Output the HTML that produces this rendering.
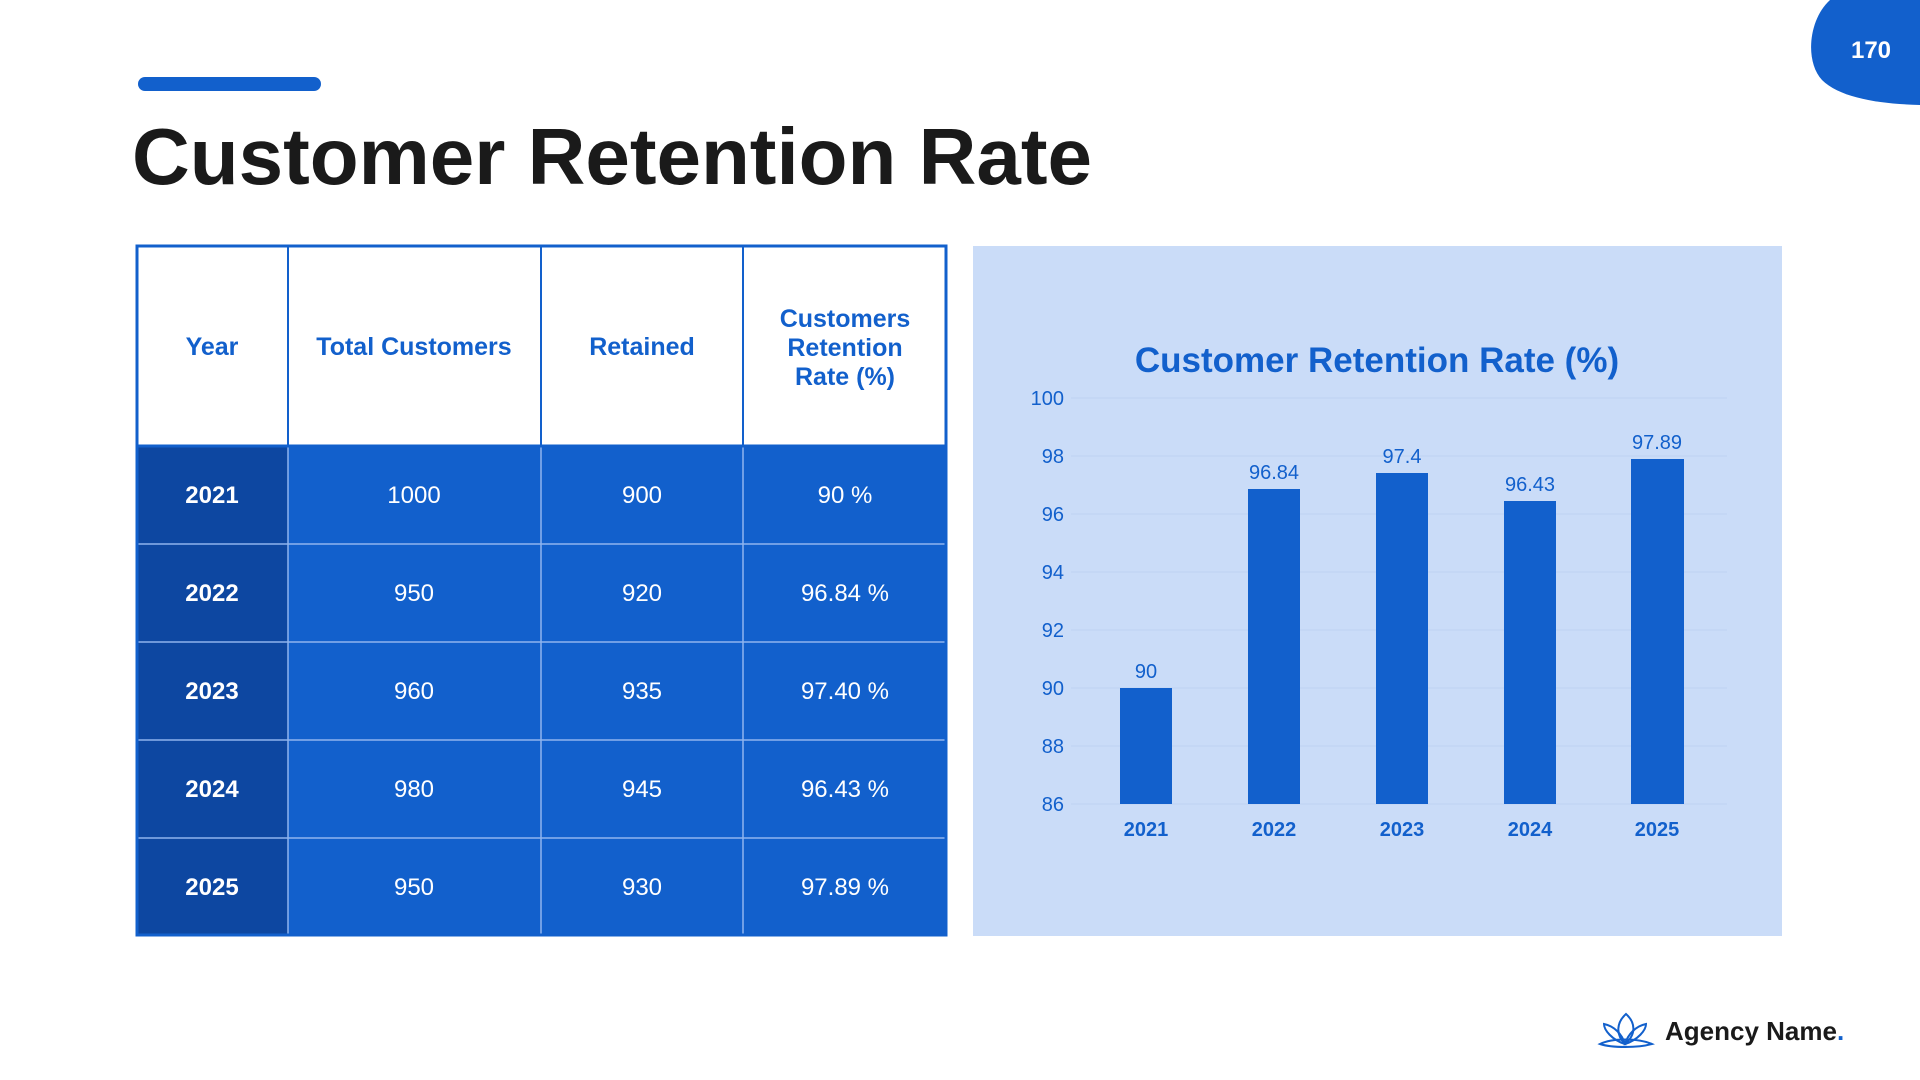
<!DOCTYPE html>
<html><head><meta charset="utf-8"><style>
html,body{margin:0;padding:0;background:#fff;}
svg{display:block;font-family:"Liberation Sans",sans-serif;}
</style></head><body>
<svg width="1920" height="1080" viewBox="0 0 1920 1080" xmlns="http://www.w3.org/2000/svg">
<rect width="1920" height="1080" fill="#fff"/>
<path d="M1830 0 H1920 V105 C1880 104 1840 98 1822 80 C1805 62 1808 20 1830 0 Z" fill="#1260cc"/>
<text x="1871" y="58" font-size="24" font-weight="bold" fill="#fff" text-anchor="middle">170</text>
<rect x="138" y="77" width="183" height="14" rx="7" fill="#1260cc"/>
<text x="132" y="184" font-size="80" font-weight="bold" fill="#1a1a1a" textLength="960" lengthAdjust="spacingAndGlyphs">Customer Retention Rate</text>
<rect x="137" y="246" width="809" height="200" fill="#fff" stroke="#1260cc" stroke-width="3"/>
<rect x="136" y="446" width="811" height="490" fill="#1260cc"/>
<rect x="136" y="446" width="152" height="490" fill="#0d47a1"/>
<g stroke="#1260cc" stroke-width="2"><line x1="288" y1="246" x2="288" y2="446"/><line x1="541" y1="246" x2="541" y2="446"/><line x1="743" y1="246" x2="743" y2="446"/></g>
<g stroke="#8fb4ee" stroke-width="1.5"><line x1="288" y1="446" x2="288" y2="936"/><line x1="541" y1="446" x2="541" y2="936"/><line x1="743" y1="446" x2="743" y2="936"/>
<line x1="136" y1="544" x2="947" y2="544"/><line x1="136" y1="642" x2="947" y2="642"/><line x1="136" y1="740" x2="947" y2="740"/><line x1="136" y1="838" x2="947" y2="838"/></g>
<rect x="137" y="446" width="809" height="489" fill="none" stroke="#1260cc" stroke-width="3"/>
<g font-size="25" font-weight="bold" fill="#1260cc" text-anchor="middle">
<text x="212" y="355">Year</text><text x="414" y="355">Total Customers</text><text x="642" y="355">Retained</text>
<text x="845" y="327">Customers</text><text x="845" y="356">Retention</text><text x="845" y="385">Rate (%)</text></g>
<g font-size="24" fill="#fff" text-anchor="middle">
<g font-weight="bold"><text x="212" y="503">2021</text><text x="212" y="601">2022</text><text x="212" y="699">2023</text><text x="212" y="797">2024</text><text x="212" y="895">2025</text></g>
<text x="414" y="503">1000</text><text x="642" y="503">900</text><text x="845" y="503">90 %</text>
<text x="414" y="601">950</text><text x="642" y="601">920</text><text x="845" y="601">96.84 %</text>
<text x="414" y="699">960</text><text x="642" y="699">935</text><text x="845" y="699">97.40 %</text>
<text x="414" y="797">980</text><text x="642" y="797">945</text><text x="845" y="797">96.43 %</text>
<text x="414" y="895">950</text><text x="642" y="895">930</text><text x="845" y="895">97.89 %</text>
</g>
<rect x="973" y="246" width="809" height="690" fill="#cadcf8"/>
<text x="1377" y="372" font-size="35" font-weight="bold" fill="#1260cc" text-anchor="middle">Customer Retention Rate (%)</text>
<g stroke="#bed2f2" stroke-width="1">
<line x1="1071" y1="398" x2="1727" y2="398"/><line x1="1071" y1="456" x2="1727" y2="456"/><line x1="1071" y1="514" x2="1727" y2="514"/><line x1="1071" y1="572" x2="1727" y2="572"/><line x1="1071" y1="630" x2="1727" y2="630"/><line x1="1071" y1="688" x2="1727" y2="688"/><line x1="1071" y1="746" x2="1727" y2="746"/><line x1="1071" y1="804" x2="1727" y2="804"/></g>
<g font-size="20" fill="#1260cc" text-anchor="end">
<text x="1064" y="405">100</text><text x="1064" y="463">98</text><text x="1064" y="521">96</text><text x="1064" y="579">94</text><text x="1064" y="637">92</text><text x="1064" y="695">90</text><text x="1064" y="753">88</text><text x="1064" y="811">86</text></g>
<g fill="#1260cc">
<rect x="1120" y="688" width="52" height="116"/>
<rect x="1248" y="489" width="52" height="315"/>
<rect x="1376" y="473" width="52" height="331"/>
<rect x="1504" y="501" width="52" height="303"/>
<rect x="1631" y="459" width="53" height="345"/>
</g>
<g font-size="20" fill="#1260cc" text-anchor="middle">
<text x="1146" y="678">90</text><text x="1274" y="479">96.84</text><text x="1402" y="463">97.4</text><text x="1530" y="491">96.43</text><text x="1657" y="449">97.89</text></g>
<g font-size="20" font-weight="bold" fill="#1260cc" text-anchor="middle">
<text x="1146" y="836">2021</text><text x="1274" y="836">2022</text><text x="1402" y="836">2023</text><text x="1530" y="836">2024</text><text x="1657" y="836">2025</text></g>
<g fill="none" stroke="#1260cc" stroke-width="2">
<path d="M1625 1044 C1615 1034 1617 1022 1626 1014 C1635 1022 1637 1034 1625 1044 Z"/>
<path d="M1625 1044 C1612 1040 1604 1030 1604 1024 C1614 1026 1622 1034 1625 1044 Z"/>
<path d="M1625 1044 C1638 1040 1646 1030 1646 1024 C1636 1026 1628 1034 1625 1044 Z"/>
<path d="M1600 1044 C1612 1038 1638 1038 1652 1044 C1638 1048 1612 1048 1600 1044 Z"/>
</g>
<text x="1665" y="1040" font-size="26" font-weight="bold" fill="#1a1a1a">Agency Name<tspan fill="#1260cc">.</tspan></text>
</svg>
</body></html>
